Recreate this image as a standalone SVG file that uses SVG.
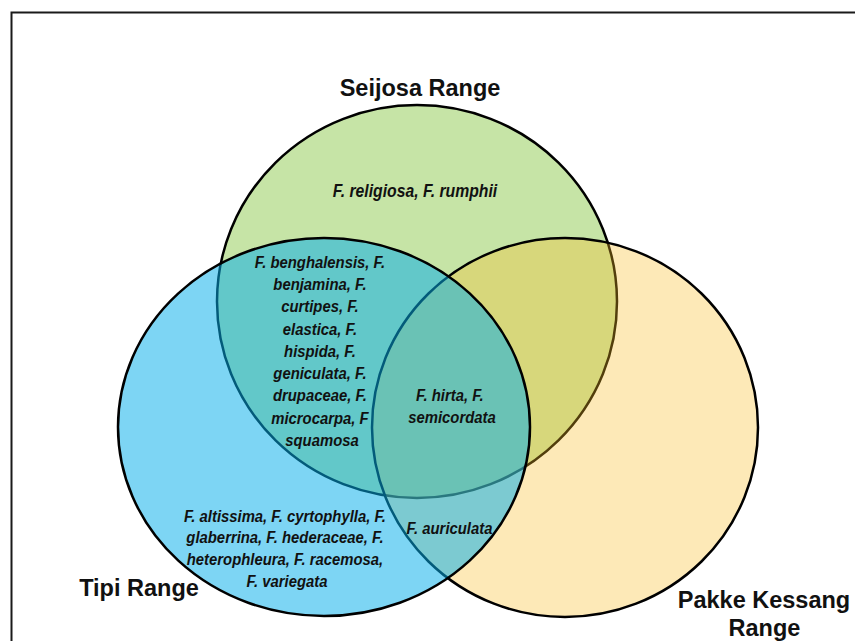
<svg xmlns="http://www.w3.org/2000/svg" width="855" height="641" viewBox="0 0 855 641">
  <style>
    .ring { stroke: #000; stroke-width: 2.5; }
    .title { font-family: "Liberation Sans", Arial, sans-serif; font-weight: bold; font-size: 23.5px; fill: #111; text-anchor: middle; }
    .sp { font-family: "Liberation Sans", Arial, sans-serif; font-weight: bold; font-style: italic; font-size: 16.5px; fill: #111; text-anchor: middle; }
  </style>
  <rect x="11.5" y="12.5" width="900" height="700" fill="#fff" stroke="#1a1a1a" stroke-width="2"/>

  <g id="seijosa">
    <ellipse class="ring" cx="417" cy="301.5" rx="200" ry="196.5" fill="#c6e4a6"/>
    <text class="title" x="420" y="96">Seijosa Range</text>
  </g>
  <g id="pakke">
    <ellipse class="ring" cx="565" cy="427.5" rx="193" ry="189.5" fill="#f9bc25" fill-opacity="0.33"/>
    <text class="title" x="764" y="608">Pakke Kessang</text>
    <text class="title" x="764.5" y="636">Range</text>
  </g>
  <g id="tipi">
    <ellipse class="ring" cx="324" cy="427" rx="206" ry="189" fill="#05aeea" fill-opacity="0.52"/>
    <text class="title" x="139" y="596">Tipi Range</text>
  </g>

  <g id="seijosa-only">
    <text class="sp" transform="translate(415,0) scale(0.9,1)" style="font-size:17.5px"><tspan x="0" y="197">F. religiosa, F. rumphii</tspan></text>
  </g>
  <g id="seijosa-tipi">
    <text class="sp" transform="translate(322,0) scale(0.9,1)">
      <tspan x="0" y="267.7">F. benghalensis, F.</tspan>
      <tspan x="0" y="290">benjamina, F.</tspan>
      <tspan x="0" y="312.3">curtipes, F.</tspan>
      <tspan x="0" y="334.6">elastica, F.</tspan>
      <tspan x="0" y="356.9">hispida, F.</tspan>
      <tspan x="0" y="379.2">geniculata, F.</tspan>
      <tspan x="0" y="401.5">drupaceae, F.</tspan>
      <tspan x="0" y="423.8">microcarpa, F</tspan>
      <tspan x="0" y="446.1">squamosa</tspan>
    </text>
  </g>
  <g id="all-three">
    <text class="sp" transform="translate(452,0) scale(0.9,1)">
      <tspan x="0" y="401.5">F. hirta, F.</tspan>
      <tspan x="0" y="423">semicordata</tspan>
    </text>
  </g>
  <g id="tipi-only">
    <text class="sp" transform="translate(287,0) scale(0.9,1)">
      <tspan x="0" y="521.7">F. altissima, F. cyrtophylla, F.</tspan>
      <tspan x="0" y="543.5">glaberrina, F. hederaceae, F.</tspan>
      <tspan x="0" y="565.3">heterophleura, F. racemosa,</tspan>
      <tspan x="0" y="587">F. variegata</tspan>
    </text>
  </g>
  <g id="tipi-pakke">
    <text class="sp" transform="translate(449.5,0) scale(0.9,1)"><tspan x="0" y="534">F. auriculata</tspan></text>
  </g>
</svg>
